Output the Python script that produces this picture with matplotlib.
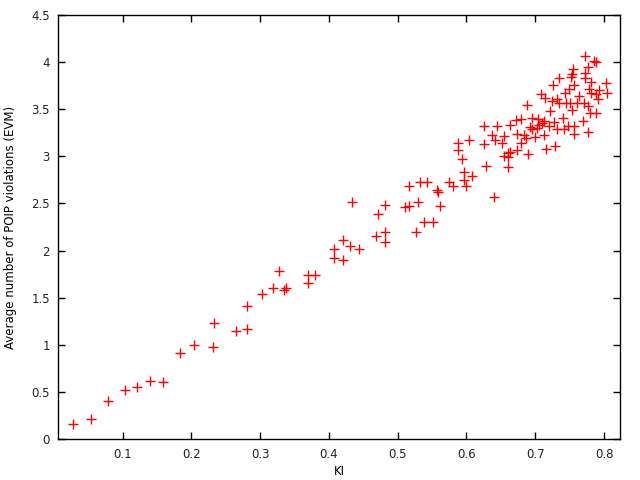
import matplotlib
matplotlib.use("Agg")
import matplotlib.pyplot as plt

# KI vs average number of POIP violations
ki = [
    0.027, 0.054, 0.079, 0.104, 0.121, 0.140, 0.159, 0.184, 0.203, 0.232,
    0.233, 0.265, 0.281, 0.281, 0.303, 0.318, 0.327, 0.334, 0.338, 0.369,
    0.370, 0.379,
    0.407, 0.407, 0.421, 0.421, 0.431, 0.443, 0.434, 0.469, 0.471, 0.481,
    0.481, 0.482, 0.511, 0.516, 0.516, 0.527, 0.529, 0.533, 0.543, 0.538,
    0.552, 0.557, 0.559, 0.561, 0.574, 0.580,
    0.688, 0.626, 0.645, 0.664, 0.672, 0.680, 0.696, 0.704, 0.692, 0.696,
    0.702, 0.705, 0.674, 0.683, 0.686, 0.699, 0.679, 0.689, 0.674, 0.637,
    0.654, 0.641, 0.651, 0.625, 0.604, 0.587, 0.587, 0.593, 0.664, 0.661,
    0.654, 0.661, 0.660, 0.628, 0.597, 0.608, 0.597, 0.599, 0.640,
    0.773, 0.785, 0.788, 0.776, 0.755, 0.753, 0.752, 0.773, 0.773, 0.734,
    0.726, 0.757, 0.781, 0.803, 0.804, 0.749, 0.743, 0.778, 0.781, 0.792,
    0.789, 0.763, 0.709, 0.714, 0.791, 0.724, 0.732, 0.734, 0.750, 0.760,
    0.771, 0.776, 0.753, 0.721, 0.779, 0.789, 0.740, 0.727, 0.770, 0.757,
    0.742, 0.731, 0.776, 0.757, 0.712, 0.728, 0.715,
    0.712, 0.710, 0.720, 0.748, 0.745,
]
evm = [
    0.16, 0.21, 0.41, 0.52, 0.55, 0.62, 0.61, 0.91, 1.00, 0.98,
    1.23, 1.15, 1.17, 1.41, 1.54, 1.60, 1.78, 1.58, 1.60, 1.74,
    1.66, 1.74,
    2.02, 1.92, 2.11, 1.90, 2.05, 2.02, 2.52, 2.15, 2.39, 2.48,
    2.20, 2.09, 2.46, 2.47, 2.68, 2.20, 2.52, 2.73, 2.73, 2.30,
    2.30, 2.64, 2.62, 2.47, 2.73, 2.68,
    3.54, 3.32, 3.32, 3.33, 3.38, 3.39, 3.41, 3.39, 3.31, 3.29,
    3.30, 3.33, 3.24, 3.22, 3.19, 3.20, 3.14, 3.02, 3.07, 3.23,
    3.21, 3.17, 3.14, 3.13, 3.17, 3.14, 3.07, 2.97, 3.05, 3.03,
    3.00, 2.99, 2.89, 2.90, 2.83, 2.79, 2.75, 2.68, 2.57,
    4.06, 4.01, 4.00, 3.95, 3.92, 3.87, 3.84, 3.88, 3.83, 3.83,
    3.75, 3.75, 3.79, 3.78, 3.67, 3.71, 3.67, 3.71, 3.67, 3.70,
    3.66, 3.64, 3.66, 3.62, 3.61, 3.59, 3.61, 3.56, 3.56, 3.56,
    3.56, 3.53, 3.49, 3.48, 3.46, 3.46, 3.40, 3.36, 3.37, 3.32,
    3.29, 3.29, 3.26, 3.24, 3.22, 3.11, 3.08,
    3.37, 3.35, 3.32, 3.32, 3.56,
]

xticks = [0.1, 0.2, 0.3, 0.4, 0.5, 0.6, 0.7, 0.8]
yticks = [0, 0.5, 1, 1.5, 2, 2.5, 3, 3.5, 4, 4.5]

plt.rcParams['font.family'] = ['DejaVu Sans']
plt.rcParams['font.size'] = 8.5

fig = plt.figure(figsize=(6.4, 4.8), dpi=100)
ax = fig.add_axes([0.091, 0.0848, 0.878, 0.8846])

ax.plot(ki, evm, linestyle='none', marker='+', color='#ff0000',
        markersize=6.5, markeredgewidth=1.0)

ax.set_xlim(0.0062, 0.8235)
ax.set_ylim(0, 4.5)
ax.set_xticks(xticks)
ax.set_xticklabels([f"{t:g}" for t in xticks])
ax.set_yticks(yticks)
ax.set_yticklabels([f"{t:g}" for t in yticks])
ax.tick_params(direction='in', length=5, width=1, top=True, right=True,
               colors='black', labelcolor='#222222', pad=6)
for sp in ax.spines.values():
    sp.set_linewidth(1)

ax.set_xlabel('KI', labelpad=3)
ax.set_ylabel('Average number of POIP violations (EVM)', labelpad=10)

fig.savefig('out.png', dpi=100)
